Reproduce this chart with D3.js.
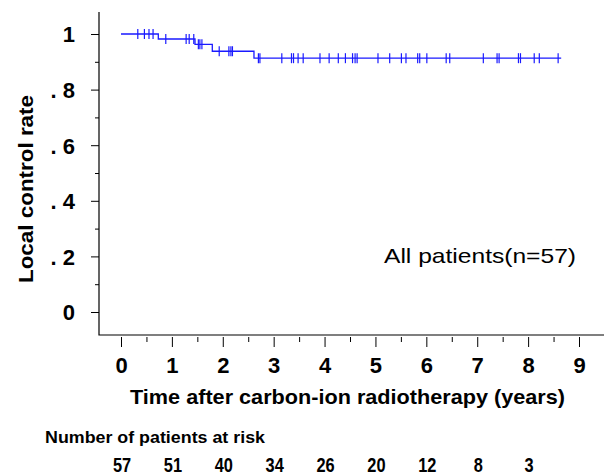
<!DOCTYPE html>
<html>
<head>
<meta charset="utf-8">
<script src="https://cdn.jsdelivr.net/npm/d3@7"></script>
<style>
  body { margin: 0; background: #fff; }
  svg text { fill: #000; }
</style>
</head>
<body>
<svg id="km"></svg>
<script>
const width = 604;
const height = 476;

// Kaplan-Meier steps: event times (years) and survival after each event
const eventTimes = [0.733, 1.454, 1.794, 2.613];
const eventSurv = [0.982, 0.963, 0.938, 0.913];
const endTime = 8.65;

// censored observation times (years)
const censorTimes = [0.33, 0.46, 0.55, 0.63, 0.88, 1.28, 1.34, 1.43, 1.52, 1.55, 1.59,
  1.93, 2.12, 2.16, 2.19, 2.70, 2.73, 3.16, 3.35, 3.39, 3.48, 3.58, 3.91, 4.09, 4.27,
  4.41, 4.55, 4.60, 4.64, 5.05, 5.28, 5.51, 5.60, 5.83, 5.87, 6.01, 6.39, 6.46, 7.12,
  7.39, 7.43, 7.81, 7.85, 8.12, 8.22, 8.59];

const riskTimes = [0, 1, 2, 3, 4, 5, 6, 7, 8];
const riskCounts = [57, 51, 40, 34, 26, 20, 12, 8, 3];

const yTicks = [0, 0.2, 0.4, 0.6, 0.8, 1];
const yTickLabels = ["0", ". 2", ". 4", ". 6", ". 8", "1"];
const xTicks = [0, 1, 2, 3, 4, 5, 6, 7, 8, 9];

const sans = "'Liberation Sans', Arial, sans-serif";

const svg = d3.select("#km")
    .attr("width", width)
    .attr("height", height);

const x = d3.scaleLinear().domain([0, 9]).range([121, 579]);
const y = d3.scaleLinear().domain([0, 1]).range([312, 34]);

// survival at time t
function survAt(t) {
    let s = 1;
    eventTimes.forEach((e, i) => { if (e <= t) s = eventSurv[i]; });
    return s;
}

// frame: left and bottom lines
const frameLeft = 99, frameTop = 12, frameBottom = 335;
svg.append("path")
    .attr("d", `M${frameLeft},${frameTop}V${frameBottom}H${width}`)
    .attr("fill", "none")
    .attr("stroke", "#000")
    .attr("stroke-width", 1.2);

// y axis ticks
const yMajor = d3.axisLeft(y).tickValues(yTicks).tickSize(8).tickPadding(16)
    .tickFormat((d, i) => yTickLabels[i]);
const yMinor = d3.axisLeft(y).tickValues([0.1, 0.3, 0.5, 0.7, 0.9]).tickSize(4).tickFormat("");

const gy = svg.append("g").attr("transform", `translate(${frameLeft},0)`).call(yMajor);
svg.append("g").attr("transform", `translate(${frameLeft},0)`).call(yMinor)
    .select(".domain").remove();
gy.select(".domain").remove();
gy.selectAll("text")
    .attr("font-family", sans)
    .attr("font-weight", "bold")
    .attr("font-size", 22)
    .attr("dy", "0.36em");

// x axis ticks (separate from the frame)
const axisTop = 337;
const xMajor = d3.axisBottom(x).tickValues(xTicks).tickSize(10).tickPadding(10)
    .tickFormat(d3.format("d"));
const xMinor = d3.axisBottom(x).tickValues(d3.range(0.5, 9, 1)).tickSize(5).tickFormat("");
const gx = svg.append("g").attr("transform", `translate(0,${axisTop})`).call(xMajor);
gx.select(".domain").remove();
svg.append("g").attr("transform", `translate(0,${axisTop})`).call(xMinor)
    .select(".domain").remove();
gx.selectAll("text")
    .attr("font-family", sans)
    .attr("font-weight", "bold")
    .attr("font-size", 22);

svg.selectAll(".tick line").attr("stroke", "#000").attr("stroke-width", 1);

// KM step line
const pts = [[0, 1]];
eventTimes.forEach((t, i) => {
    pts.push([t, i === 0 ? 1 : eventSurv[i - 1]]);
    pts.push([t, eventSurv[i]]);
});
pts.push([endTime, eventSurv[eventSurv.length - 1]]);

const line = d3.line().x(d => x(d[0])).y(d => y(d[1]));
svg.append("path")
    .datum(pts)
    .attr("d", line)
    .attr("fill", "none")
    .attr("stroke", "#1a1aff")
    .attr("stroke-width", 1.3);

// censor marks
svg.append("g")
    .selectAll("line")
    .data(censorTimes)
    .enter()
    .append("line")
    .attr("x1", d => x(d))
    .attr("x2", d => x(d))
    .attr("y1", d => y(survAt(d)) - 5)
    .attr("y2", d => y(survAt(d)) + 5)
    .attr("stroke", "#1a1aff")
    .attr("stroke-width", 1.2);

// axis titles
svg.append("text")
    .attr("x", 130)
    .attr("y", 404)
    .attr("font-family", sans)
    .attr("font-weight", "bold")
    .attr("font-size", 21)
    .attr("textLength", 435)
    .attr("lengthAdjust", "spacingAndGlyphs")
    .text("Time after carbon-ion radiotherapy (years)");

svg.append("text")
    .attr("transform", "translate(33,283) rotate(-90)")
    .attr("font-family", sans)
    .attr("font-weight", "bold")
    .attr("font-size", 21)
    .attr("textLength", 188)
    .attr("lengthAdjust", "spacingAndGlyphs")
    .text("Local control rate");

// annotation
svg.append("text")
    .attr("x", 384)
    .attr("y", 263)
    .attr("font-family", sans)
    .attr("font-size", 21)
    .attr("textLength", 192)
    .attr("lengthAdjust", "spacingAndGlyphs")
    .text("All patients(n=57)");

// number at risk table
svg.append("text")
    .attr("x", 45)
    .attr("y", 443)
    .attr("font-family", sans)
    .attr("font-weight", "bold")
    .attr("font-size", 17)
    .attr("textLength", 220)
    .attr("lengthAdjust", "spacingAndGlyphs")
    .text("Number of patients at risk");

svg.append("g")
    .selectAll("text")
    .data(riskCounts)
    .enter()
    .append("text")
    .attr("transform", (d, i) => `translate(${x(riskTimes[i]) + 1},472) scale(0.82,1)`)
    .attr("text-anchor", "middle")
    .attr("font-family", sans)
    .attr("font-weight", "bold")
    .attr("font-size", 20)
    .text(d => d);
</script>
</body>
</html>
